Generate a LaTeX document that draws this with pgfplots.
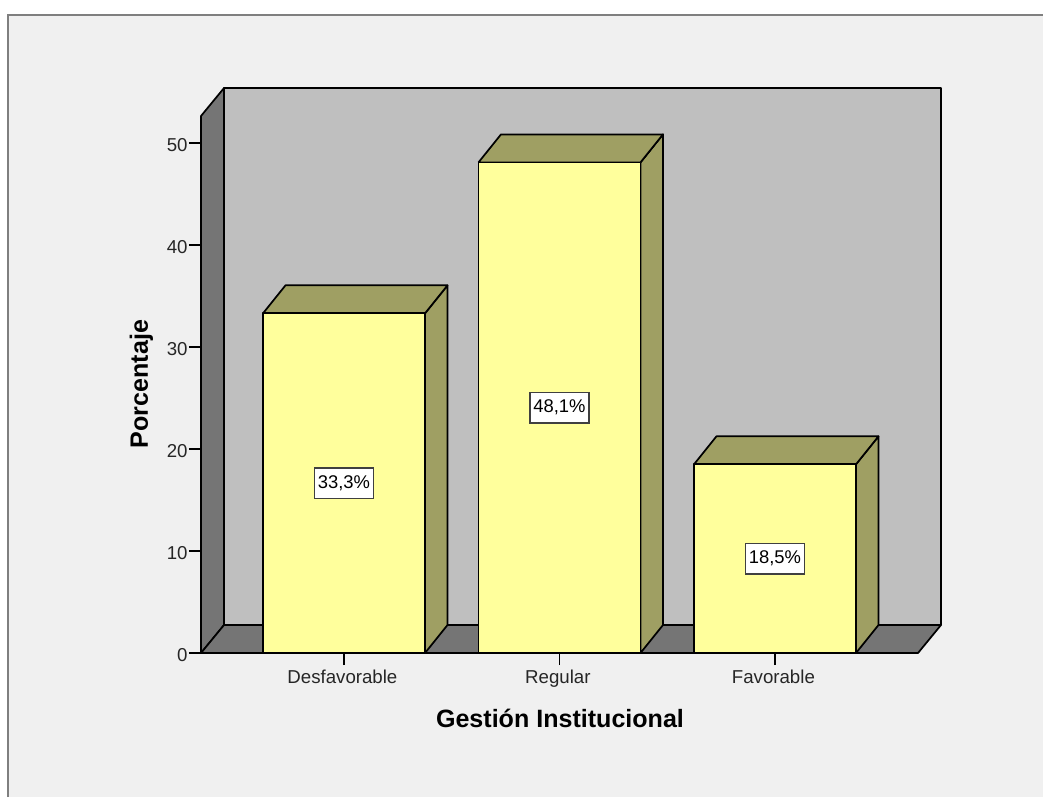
\documentclass[border=0pt]{standalone}
\usepackage{fontspec}
\setmainfont{Liberation Sans}
\usepackage{pgfplots}
\pgfplotsset{compat=1.18}
% 1 px of the reference = 0.75pt here
\definecolor{panelbg}{HTML}{F0F0F0}
\definecolor{framegray}{HTML}{7F7F7F}
\definecolor{wallgray}{HTML}{BFBFBF}
\definecolor{darkgray3d}{HTML}{757575}
\definecolor{baryellow}{HTML}{FFFF9C}
\definecolor{barolive}{HTML}{9F9F63}
\tikzset{
    face/.style={draw=black, line width=1.3pt, line join=round},
    wall/.style={face, fill=wallgray},
    shade3d/.style={face, fill=darkgray3d},
    bartop/.style={face, fill=barolive},
    valbox/.style={draw=black!75, fill=white, line width=1.1pt, inner sep=0pt,
        minimum width=44.5pt, minimum height=23pt, font=\fontsize{13.8}{15}\selectfont},
}
\begin{document}
\begin{tikzpicture}
\begin{scope}[x=0.75pt, y=-0.75pt]
    \path[use as bounding box, fill=white] (0,0) rectangle (1043,797);
    \fill[panelbg] (8,15) rectangle (1043,797);
    \draw[framegray, line width=2pt] (8,797) -- (8,15) -- (1043,15);
\end{scope}
\begin{axis}[
        at={(150.75pt,-489.75pt)},
        anchor=south west,
        scale only axis,
        width=537.75pt,
        height=402.75pt,
        clip=false,
        axis lines*=left,
        axis line style={black, line width=1.3pt, -},
        xmin=-0.6636, xmax=2.6636,
        ymin=0, ymax=52.647,
        xtick={0,1,2},
        xticklabels={Desfavorable, Regular, Favorable},
        ytick={0,10,20,30,40,50},
        tick align=outside,
        tickwidth=9pt,
        major tick style={black, line width=1.1pt},
        tick label style={font=\fontsize{14}{16}\selectfont, text=black!85},
        /pgf/number format/assume math mode=true,
        xticklabel style={xshift=-1.2pt},
        yticklabel style={xshift=2.5pt, yshift=-1.5pt},
        xlabel={Gestión Institucional},
        xlabel style={at={(rel axis cs:0.5007,-0.121)}, anchor=center,
            font=\fontsize{18.8}{21}\selectfont\bfseries},
        ylabel={Porcentaje},
        ylabel style={at={(rel axis cs:-0.083,0.5009)}, anchor=center,
            font=\fontsize{18.8}{21}\selectfont\bfseries},
    ]
    % back wall, left wall, floor
    \addplot[wall] coordinates {(-0.5568,2.745) (2.7703,2.745) (2.7703,55.39) (-0.5568,55.39) (-0.5568,2.745)};
    \addplot[shade3d] coordinates {(-0.6636,0) (-0.5568,2.745) (-0.5568,55.39) (-0.6636,52.647) (-0.6636,0)};
    \addplot[shade3d] coordinates {(-0.6636,0) (2.6636,0) (2.7703,2.745) (-0.5568,2.745) (-0.6636,0)};

    % side and top faces of the bars
    \addplot[bartop] coordinates {(0.3759,0) (0.4803,2.745) (0.4803,36.045) (0.3759,33.3) (0.3759,0)};
    \addplot[bartop] coordinates {(-0.3759,33.3) (0.3759,33.3) (0.4803,36.045) (-0.2715,36.045) (-0.3759,33.3)};
    \addplot[bartop] coordinates {(1.3759,0) (1.4803,2.745) (1.4803,50.845) (1.3759,48.1) (1.3759,0)};
    \addplot[bartop] coordinates {(0.6241,48.1) (1.3759,48.1) (1.4803,50.845) (0.7285,50.845) (0.6241,48.1)};
    \addplot[bartop] coordinates {(2.3759,0) (2.4803,2.745) (2.4803,21.245) (2.3759,18.5) (2.3759,0)};
    \addplot[bartop] coordinates {(1.6241,18.5) (2.3759,18.5) (2.4803,21.245) (1.7285,21.245) (1.6241,18.5)};

    % front faces
    \addplot[ybar, bar width=121.5pt, bar shift=0pt, face, fill=baryellow]
        coordinates {(0,33.3) (1,48.1) (2,18.5)};

    \node[valbox] at (axis cs:0,16.65) {33,3\%};
    \node[valbox] at (axis cs:1,24.05) {48,1\%};
    \node[valbox] at (axis cs:2,9.25) {18,5\%};
\end{axis}
\end{tikzpicture}
\end{document}
